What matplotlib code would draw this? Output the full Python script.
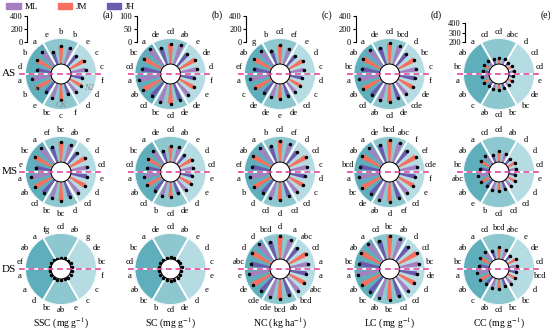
import numpy as np
import matplotlib.pyplot as plt
from matplotlib.patches import Patch

plt.rcParams['font.family'] = ['Liberation Serif', 'DejaVu Serif']
plt.rcParams['mathtext.fontset'] = 'stix'

# bars run counter-clockwise from 10 deg, 20 deg apart
# each 60 deg sector holds ML, JM, JH
cultivars = ["ML", "JM", "JH"]
bar_colors = ["#a67fc0", "#f7705f", "#6b5aad"]
sector_colors = ["#b5dce2", "#8dc7cf", "#5faebb", "#5faebb", "#8dc7cf", "#b5dce2"]

stages = ["AS", "MS", "DS"]
tags = ["(a)", "(b)", "(c)", "(d)", "(e)"]
xlabels = [r"SSC (mg g$^{-1}$)", r"SC (mg g$^{-1}$)", r"NC (kg ha$^{-1}$)",
           r"LC (mg g$^{-1}$)", r"CC (mg g$^{-1}$)"]

# radial scale of each column: base, outer edge, scale-bar ticks
bases = [0, 0, 0, 0, 200]
tops = [400, 100, 400, 400, 475]
scale_ticks = [[0, 200, 400], [0, 50, 100], [0, 200, 400], [0, 200, 400], [200, 300, 400]]
errs = [14, 4, 14, 14, 10]

# ---- SSC ----
ssc_as = [230, 250, 200, 270, 280, 210, 290, 270, 220, 300, 270, 200, 240, 240, 180, 210, 210, 180]
ssc_ms = [250, 280, 230, 290, 310, 250, 320, 310, 240, 310, 300, 260, 270, 290, 250, 260, 270, 250]
ssc_ds = [18, 17, 12, 20, 18, 14, 24, 21, 15, 23, 24, 17, 19, 21, 14, 18, 18, 15]
ssc_as_sig = ["c", "c", "e", "b", "b", "e", "a", "b", "d", "a", "b", "e", "bc", "c", "f", "d", "d", "f"]
ssc_ms_sig = ["cd", "d", "e", "ab", "bc", "ef", "a", "bc", "e", "a", "ab", "cd", "bc", "bc", "d", "cd", "d", "e"]
ssc_ds_sig = ["bc", "de", "g", "ab", "cd", "fg", "a", "ab", "ef", "a", "a", "d", "bc", "ab", "e", "c", "c", "f"]

# ---- SC ----
sc_as = [65, 72, 60, 80, 78, 68, 85, 80, 72, 85, 82, 72, 76, 76, 66, 68, 64, 55]
sc_ms = [50, 57, 45, 62, 60, 48, 66, 62, 52, 65, 64, 55, 58, 58, 48, 52, 52, 44]
sc_ds = [5, 5, 4, 6, 6, 5, 7, 6, 5, 7, 6, 5, 6, 6, 5, 5, 5, 4]
sc_as_sig = ["d", "de", "e", "ab", "cd", "de", "a", "bc", "cd", "a", "ab", "cd", "bc", "cd", "de", "de", "e", "f"]
sc_ms_sig = ["cd", "d", "e", "ab", "cd", "de", "a", "bc", "cd", "a", "ab", "cd", "b", "cd", "de", "d", "e", "e"]
sc_ds_sig = ["c", "d", "e", "ab", "cd", "de", "a", "bc", "cd", "a", "ab", "bc", "b", "cd", "de", "d", "e", "e"]

# ---- NC ----
nc_as = [220, 250, 200, 260, 290, 230, 300, 300, 250, 310, 290, 230, 230, 230, 200, 210, 210, 190]
nc_ms = [270, 300, 250, 300, 330, 270, 330, 330, 280, 320, 310, 260, 280, 280, 240, 250, 250, 230]
nc_ds = [280, 310, 260, 320, 350, 290, 340, 340, 300, 330, 330, 290, 300, 310, 270, 280, 280, 260]
nc_as_sig = ["c", "d", "e", "ef", "cd", "b", "g", "ab", "ef", "a", "c", "de", "de", "e", "de", "cd", "c", "d"]
nc_ms_sig = ["c", "cd", "d", "ef", "cd", "b", "a", "ab", "ef", "a", "b", "d", "cd", "d", "cd", "cd", "c", "d"]
nc_ds_sig = ["a", "cd", "abc", "a", "d", "bcd", "d", "d", "abc", "e", "de", "cde", "cde", "bcd", "ab", "bcd", "abc", "a"]

# ---- LC ----
lc_as = [260, 290, 240, 300, 320, 270, 320, 320, 280, 320, 310, 270, 280, 280, 240, 250, 260, 240]
lc_ms = [280, 310, 270, 320, 340, 290, 330, 330, 300, 330, 330, 290, 300, 300, 270, 270, 270, 250]
lc_ds = [300, 330, 290, 340, 360, 310, 350, 350, 320, 340, 340, 310, 320, 320, 290, 290, 290, 270]
lc_as_sig = ["c", "bc", "d", "bcd", "cd", "de", "a", "ab", "bc", "a", "ab", "cd", "ab", "cd", "de", "cde", "de", "f"]
lc_ms_sig = ["cde", "ef", "f", "abc", "bcd", "de", "a", "ab", "bcd", "a", "bc", "de", "ab", "d", "ef", "cd", "e", "f"]
lc_ds_sig = ["bc", "cd", "d", "ab", "bc", "cd", "a", "ab", "bc", "a", "ab", "bc", "ab", "bc", "cd", "cd", "d", "de"]

# ---- CC ----
cc_as = [250, 258, 245, 265, 265, 262, 280, 278, 268, 282, 280, 262, 265, 265, 250, 252, 250, 245]
cc_ms = [280, 295, 270, 300, 315, 285, 320, 320, 295, 320, 315, 290, 300, 300, 280, 285, 285, 270]
cc_ds = [290, 305, 280, 310, 325, 300, 330, 325, 305, 330, 325, 300, 310, 310, 290, 295, 295, 280]
cc_as_sig = ["cd", "cd", "d", "abc", "cd", "cd", "a", "ab", "bc", "a", "ab", "c", "ab", "cd", "bc", "bc", "de", "e"]
cc_ms_sig = ["cd", "d", "d", "ab", "cd", "cd", "a", "ab", "bc", "abc", "ab", "e", "b", "cd", "cd", "cd", "d", "e"]
cc_ds_sig = ["cd", "de", "e", "abc", "bcd", "cd", "a", "ab", "bc", "a", "ab", "c", "ab", "cd", "bc", "bc", "d", "bcd"]

values = [[ssc_as, ssc_ms, ssc_ds], [sc_as, sc_ms, sc_ds], [nc_as, nc_ms, nc_ds],
          [lc_as, lc_ms, lc_ds], [cc_as, cc_ms, cc_ds]]
letters = [[ssc_as_sig, ssc_ms_sig, ssc_ds_sig], [sc_as_sig, sc_ms_sig, sc_ds_sig],
           [nc_as_sig, nc_ms_sig, nc_ds_sig], [lc_as_sig, lc_ms_sig, lc_ds_sig],
           [cc_as_sig, cc_ms_sig, cc_ds_sig]]

W, H = 550, 332
fig = plt.figure(figsize=(5.5, 3.32), dpi=100)

col_x = [61, 170.5, 280, 389.5, 499]
row_y = [74, 172, 269]
R = 36      # circle radius, px
hole = 10   # inner hole radius, px

theta = np.deg2rad(np.arange(10, 360, 20))
sector_theta = np.deg2rad(np.arange(30, 360, 60))

for c in range(5):
    base, top = bases[c], tops[c]
    origin = base - (top - base) * hole / (R - hole)
    for r in range(3):
        cx, cy = col_x[c], row_y[r]
        ax = fig.add_axes([(cx - R) / W, 1 - (cy + R) / H, 2 * R / W, 2 * R / H],
                          projection="polar")
        ax.set_facecolor("none")
        ax.set_rorigin(origin)
        ax.set_ylim(base, top)
        # background sectors
        ax.bar(sector_theta, top - base, width=np.deg2rad(60), bottom=base,
               color=sector_colors, edgecolor="white", linewidth=1.3, zorder=1)
        vals = np.array(values[c][r])
        cols = [bar_colors[i % 3] for i in range(18)]
        ax.bar(theta, vals - base, width=np.deg2rad(10), bottom=base,
               color=cols, zorder=2)
        ax.errorbar(theta, vals, yerr=errs[c], fmt="o", ms=1.5, color="black",
                    elinewidth=0.6, capsize=0, zorder=3)
        lab_r = top + (top - origin) * 5.5 / R
        for t, s in zip(theta, letters[c][r]):
            ax.text(t, lab_r, s, ha="center", va="center", fontsize=6.2)
        ax.plot([-0.085, 1.085], [0.5, 0.5], transform=ax.transAxes, clip_on=False,
                color="#e3479c", lw=1.2, ls=(0, (3.5, 2.2)), zorder=5)
        ax.set_xticks([])
        ax.set_yticks([])
        ax.grid(False)
        for sp in ax.spines.values():
            sp.set_visible(False)
        if c == 0 and r == 0:
            for t, s, rr in [(212, "N1", 0.72), (270, "CK", 0.82), (333, "N2", 0.84)]:
                ax.text(np.deg2rad(t), base + (top - base) * rr, s, ha="center", va="center",
                        fontsize=6, style="italic", color="#8c8c8c", zorder=4)
        if c == 0:
            fig.text(2 / W, 1 - cy / H, stages[r], ha="left", va="center", fontsize=8)
        if r == 2:
            fig.text(cx / W, 1 - 323 / H, xlabels[c], ha="center", va="center", fontsize=7)

    # scale bar above the top row
    cx = col_x[c]
    k = (R - hole) / (top - base)
    h = (scale_ticks[c][-1] - base) * k
    sax = fig.add_axes([(cx - 34) / W, 1 - 42 / H, 0.5 / W, h / H])
    sax.set_ylim(base, scale_ticks[c][-1])
    sax.set_yticks(scale_ticks[c])
    sax.tick_params(axis="y", length=2, width=0.8, labelsize=6, pad=1)
    sax.set_xticks([])
    for name in ["top", "bottom", "right"]:
        sax.spines[name].set_visible(False)
    sax.spines["left"].set_linewidth(0.8)
    sax.patch.set_visible(False)
    fig.text((cx + 47) / W, 1 - 15 / H, tags[c], ha="center", va="center", fontsize=7)

handles = [Patch(color=bar_colors[i], label=cultivars[i]) for i in range(3)]
fig.legend(handles=handles, loc="upper left", bbox_to_anchor=(0.0, 1.01), ncol=3,
           frameon=False, fontsize=6.5, handlelength=1.6, handleheight=0.7,
           columnspacing=2.2, handletextpad=0.4, borderpad=0.2)

fig.savefig("out.png", dpi=100)
